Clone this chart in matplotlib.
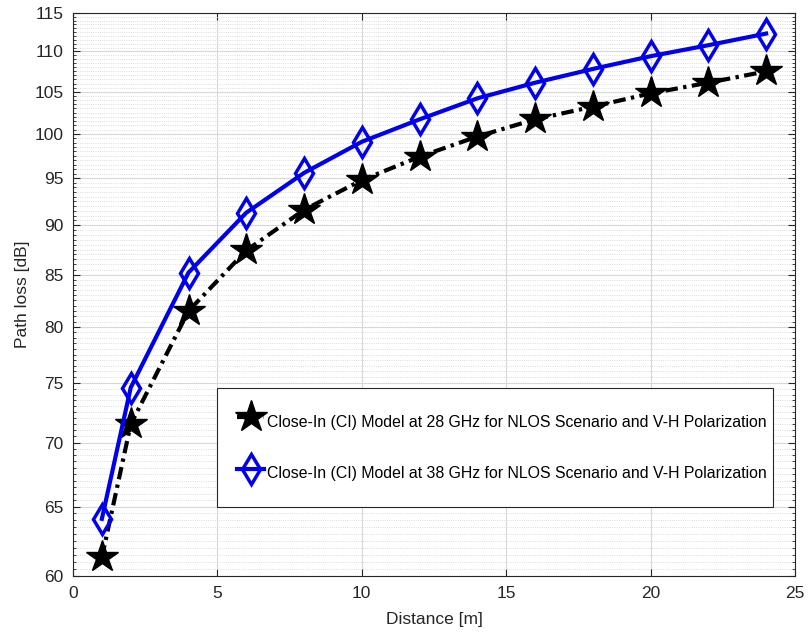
import numpy as np
import matplotlib.pyplot as plt
from matplotlib.ticker import FixedLocator, NullFormatter

plt.rcParams['font.family'] = ['Liberation Sans', 'DejaVu Sans']

# distances in metres
distance = [1, 2, 4, 6, 8, 10, 12, 14, 16, 18, 20, 22, 24]

# path loss
pl_28ghz = [61.3, 71.5, 81.5, 87.4, 91.6, 94.8, 97.4, 99.7, 101.7, 103.2, 104.8, 106.1, 107.5]
pl_38ghz = [64.1, 74.6, 85.2, 91.3, 95.6, 99.1, 101.7, 104.2, 106.1, 107.8, 109.4, 110.8, 112.3]

label_28 = 'Close-In (CI) Model at 28 GHz for NLOS Scenario and V-H Polarization'
label_38 = 'Close-In (CI) Model at 38 GHz for NLOS Scenario and V-H Polarization'

y_ticks = [60, 65, 70, 75, 80, 85, 90, 95, 100, 105, 110, 115]
x_ticks = [0, 5, 10, 15, 20, 25]

fig = plt.figure(figsize=(8.08, 6.37), dpi=100)
ax = fig.add_axes([73 / 808, 1 - 576 / 637, 722 / 808, 563 / 637])

l28, = ax.plot(distance, pl_28ghz, color='black', linestyle='-.', linewidth=3,
               marker='*', markersize=24, label=label_28)
l28.set_dashes([3, 1.3, 0.8, 1.3])
ax.plot(distance, pl_38ghz, color='#0000ee', linestyle='-', linewidth=3,
        marker='d', markersize=15, markerfacecolor='none', markeredgewidth=2.5,
        label=label_38)

ax.set_yscale('log')
ax.set_xlim(0, 25)
ax.set_ylim(60, 115)
ax.xaxis.set_major_locator(FixedLocator(x_ticks))
ax.yaxis.set_major_locator(FixedLocator(y_ticks))
ax.yaxis.set_minor_locator(FixedLocator(np.arange(60, 115.01, 0.5)))
ax.yaxis.set_minor_formatter(NullFormatter())
ax.set_yticklabels([str(t) for t in y_ticks])
ax.set_xticklabels([str(t) for t in x_ticks])

ax.grid(True, which='major', color='#d8d8d8', linewidth=0.8)
ax.grid(True, which='minor', axis='y', color='#d0d0d0', linestyle=':', linewidth=0.6)
ax.set_axisbelow(True)

ax.tick_params(which='both', direction='in', top=True, right=True, colors='#262626',
               labelsize=12.5)
ax.tick_params(which='major', length=5, pad=7)
ax.tick_params(which='minor', length=2.5)
for s in ax.spines.values():
    s.set_color('#262626')
    s.set_linewidth(0.8)

ax.set_xlabel('Distance [m]', fontsize=12.5, color='#262626', labelpad=8)
ax.set_ylabel('Path loss [dB]', fontsize=12.5, color='#262626', labelpad=3)

leg = ax.legend(loc='upper left', bbox_to_anchor=(0.1994, 0.334, 0.770, 0.0),
                mode='expand', fontsize=11.4, fancybox=False, framealpha=1,
                edgecolor='#262626', handlelength=1.75, handleheight=2.33,
                labelspacing=1.5, borderpad=1.25, handletextpad=0.15,
                borderaxespad=0)
leg.get_frame().set_linewidth(0.8)

plt.savefig('out.png', dpi=100)
